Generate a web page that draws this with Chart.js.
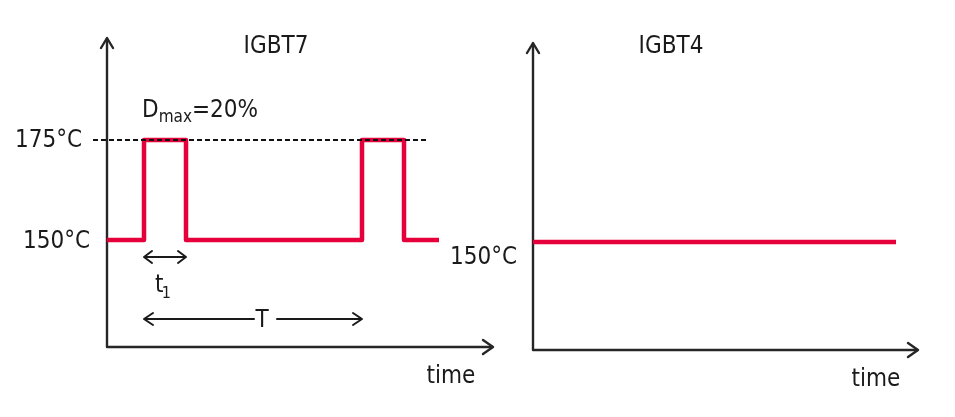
<!DOCTYPE html>
<html>
<head>
<meta charset="utf-8">
<script src="https://cdn.jsdelivr.net/npm/chart.js@4"></script>
<style>
  html, body { margin: 0; padding: 0; background: #ffffff; }
  body { width: 955px; height: 417px; position: relative; overflow: hidden; }
  canvas { position: absolute; top: 0; }
  #left { left: 0px; }
  #right { left: 440px; }
</style>
</head>
<body>
<canvas id="left" width="500" height="417"></canvas>
<canvas id="right" width="515" height="417"></canvas>
<script>
// ---- data ----
const panelTitles = ['IGBT7', 'IGBT4'];
const axisLabel = 'time';
const tempTicks = [175, 150];
const tempTickLabels = ['175°C', '150°C'];
// IGBT7: pulsed junction temperature (time in arbitrary units)
const igbt7Times = [0, 37, 37, 79, 79, 255, 255, 297, 297, 332];
const igbt7Temps = [150, 150, 175, 175, 150, 150, 175, 175, 150, 150];
// Dmax limit line
const limitTimes = [-14, 320];
const limitTemps = [175, 175];
const dutyLabel = ['D', 'max', '=20%'];
// pulse width t1 and period T
const t1Span = [37, 79];
const periodSpan = [37, 255];
// IGBT4: constant junction temperature
const igbt4Times = [0, 363];
const igbt4Temps = [150, 150];
// axis extents (time)
const igbt7AxisEnd = 386;
const igbt4AxisEnd = 385;

const RED = '#e5003b';
const INK = '#1a1a1a';
const FONT = '"DejaVu Sans Condensed", "DejaVu Sans", sans-serif';

function pts(xs, ys) { return xs.map((x, i) => ({ x: x, y: ys[i] })); }

function arrowHead(ctx, x, y, dir, len, half) {
  ctx.beginPath();
  if (dir === 'up') {
    ctx.moveTo(x - half, y + len); ctx.lineTo(x, y); ctx.lineTo(x + half, y + len);
  } else if (dir === 'right') {
    ctx.moveTo(x - len, y - half); ctx.lineTo(x, y); ctx.lineTo(x - len, y + half);
  } else if (dir === 'left') {
    ctx.moveTo(x + len, y - half); ctx.lineTo(x, y); ctx.lineTo(x + len, y + half);
  }
  ctx.stroke();
}

function drawAxes(chart, xEnd) {
  const ctx = chart.ctx, xs = chart.scales.x, ys = chart.scales.y;
  const x0 = xs.getPixelForValue(0);
  const yb = ys.bottom, yt = ys.top;
  const xe = xs.getPixelForValue(xEnd);
  ctx.save();
  ctx.strokeStyle = '#262626';
  ctx.lineWidth = 2.4;
  ctx.lineCap = 'round';
  ctx.lineJoin = 'round';
  ctx.beginPath();
  ctx.moveTo(x0, yt + 1); ctx.lineTo(x0, yb); ctx.lineTo(xe - 1, yb);
  ctx.stroke();
  arrowHead(ctx, x0, yt, 'up', 10, 6);
  arrowHead(ctx, xe, yb, 'right', 10, 7);
  ctx.restore();
}

const leftPlugin = {
  id: 'leftDecor',
  beforeDatasetsDraw(chart) {
    drawAxes(chart, igbt7AxisEnd);
  },
  afterDatasetsDraw(chart) {
    const ctx = chart.ctx, xs = chart.scales.x, ys = chart.scales.y;
    const xe = xs.getPixelForValue(igbt7AxisEnd), yb = ys.bottom;
    ctx.save();
    ctx.fillStyle = INK;
    ctx.textBaseline = 'middle';
    ctx.font = '24px ' + FONT;
    // title
    ctx.textAlign = 'center';
    ctx.fillText(panelTitles[0], xs.getPixelForValue(169), 47);
    // temp labels
    ctx.textAlign = 'right';
    ctx.fillText(tempTickLabels[0], xs.getPixelForValue(-25), ys.getPixelForValue(tempTicks[0]) + 1);
    ctx.fillText(tempTickLabels[1], xs.getPixelForValue(-17), ys.getPixelForValue(tempTicks[1]) + 2);
    // time label
    ctx.textAlign = 'center';
    ctx.fillText(axisLabel, xe - 42, yb + 30);
    // Dmax label
    ctx.textAlign = 'left';
    ctx.textBaseline = 'alphabetic';
    let x = xs.getPixelForValue(35);
    const base = 117;
    ctx.font = '24px ' + FONT;
    ctx.fillText(dutyLabel[0], x, base);
    x += ctx.measureText(dutyLabel[0]).width;
    ctx.font = '17px ' + FONT;
    ctx.fillText(dutyLabel[1], x, base + 5);
    x += ctx.measureText(dutyLabel[1]).width;
    ctx.font = '24px ' + FONT;
    ctx.fillText(dutyLabel[2], x, base);
    // t1 arrow
    ctx.strokeStyle = INK;
    ctx.lineWidth = 2;
    ctx.lineCap = 'round';
    ctx.lineJoin = 'round';
    const ta = xs.getPixelForValue(t1Span[0]), tb = xs.getPixelForValue(t1Span[1]);
    const ty = 257;
    ctx.beginPath(); ctx.moveTo(ta + 1, ty); ctx.lineTo(tb - 1, ty); ctx.stroke();
    arrowHead(ctx, ta, ty, 'left', 8, 6);
    arrowHead(ctx, tb, ty, 'right', 8, 6);
    // t1 text
    ctx.font = '24px ' + FONT;
    const tx = ta + 11;
    ctx.fillText('t', tx, 292);
    ctx.font = '16px ' + FONT;
    ctx.fillText('1', tx + ctx.measureText('t').width + 1, 298);
    // T arrow
    const pa = xs.getPixelForValue(periodSpan[0]), pb = xs.getPixelForValue(periodSpan[1]);
    const py = 319;
    const pm = (pa + pb) / 2 + 8;
    ctx.beginPath(); ctx.moveTo(pa + 1, py); ctx.lineTo(pm - 7, py); ctx.stroke();
    ctx.beginPath(); ctx.moveTo(pm + 16, py); ctx.lineTo(pb - 1, py); ctx.stroke();
    arrowHead(ctx, pa, py, 'left', 9, 6);
    arrowHead(ctx, pb, py, 'right', 9, 6);
    ctx.font = '24px ' + FONT;
    ctx.textAlign = 'center';
    ctx.textBaseline = 'middle';
    ctx.fillText('T', pm + 1, 321);
    ctx.restore();
  }
};

const rightPlugin = {
  id: 'rightDecor',
  beforeDatasetsDraw(chart) {
    drawAxes(chart, igbt4AxisEnd);
  },
  afterDatasetsDraw(chart) {
    const ctx = chart.ctx, xs = chart.scales.x, ys = chart.scales.y;
    const xe = xs.getPixelForValue(igbt4AxisEnd), yb = ys.bottom;
    ctx.save();
    ctx.fillStyle = INK;
    ctx.textBaseline = 'middle';
    ctx.font = '24px ' + FONT;
    ctx.textAlign = 'center';
    ctx.fillText(panelTitles[1], xs.getPixelForValue(138), 47);
    ctx.textAlign = 'right';
    ctx.fillText(tempTickLabels[1], xs.getPixelForValue(-16), ys.getPixelForValue(tempTicks[1]) + 16);
    ctx.textAlign = 'center';
    ctx.fillText(axisLabel, xe - 42, yb + 30);
    ctx.restore();
  }
};

function baseOptions(xMin, xMax, yMin, yMax, pad) {
  return {
    responsive: false,
    animation: false,
    events: [],
    layout: { padding: pad },
    plugins: { legend: { display: false }, tooltip: { enabled: false }, title: { display: false } },
    scales: {
      x: { type: 'linear', min: xMin, max: xMax, display: false },
      y: { type: 'linear', min: yMin, max: yMax, display: false }
    },
    elements: { point: { radius: 0 }, line: { tension: 0 } }
  };
}

new Chart(document.getElementById('left'), {
  type: 'line',
  data: {
    datasets: [
      {
        data: pts(limitTimes, limitTemps),
        borderColor: '#111111', borderWidth: 2, borderDash: [5, 3],
        pointRadius: 0, fill: false, clip: false
      },
      {
        data: pts(igbt7Times, igbt7Temps),
        borderColor: RED, borderWidth: 4.5, pointRadius: 0, fill: false,
        borderJoinStyle: 'round', borderCapStyle: 'butt', clip: false
      }
    ]
  },
  options: baseOptions(-20, 393, 123.25, 200.5, { left: 87, right: 0, top: 38, bottom: 70 }),
  plugins: [leftPlugin]
});

new Chart(document.getElementById('right'), {
  type: 'line',
  data: {
    datasets: [
      {
        data: pts(igbt4Times, igbt4Temps),
        borderColor: RED, borderWidth: 4.5, pointRadius: 0, fill: false,
        borderCapStyle: 'butt', clip: false
      }
    ]
  },
  options: baseOptions(-20, 422, 123, 199.75, { left: 73, right: 0, top: 43, bottom: 67 }),
  plugins: [rightPlugin]
});
</script>
</body>
</html>
